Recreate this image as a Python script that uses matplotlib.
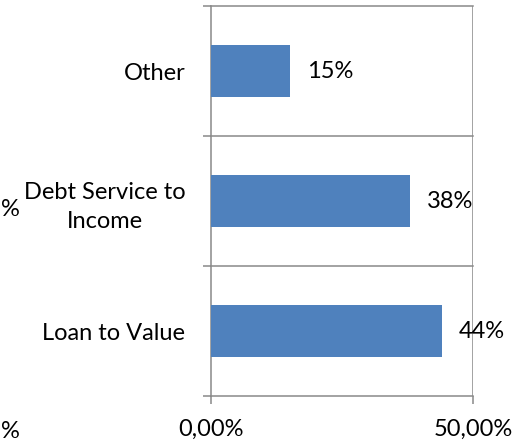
import matplotlib
matplotlib.use("Agg")
import matplotlib.pyplot as plt

plt.rcParams['font.family'] = ['Lato', 'DejaVu Sans']

# categories listed bottom to top
categories = ['Loan to Value', 'Debt Service to\nIncome', 'Other']
shares = [44, 38, 15]          # percent
value_labels = ['44%', '38%', '15%']
xtick_values = [0, 50]
xtick_labels = ['0,00%', '50,00%']

bar_color = '#4F81BD'
line_color = '#898989'
W, H = 518, 443

fig = plt.figure(figsize=(W / 100, H / 100), dpi=100)
ax = fig.add_axes([211 / W, (H - 396) / H, (473 - 211) / W, (396 - 6) / H])

pos = list(range(len(categories)))
ax.barh(pos, shares, height=0.4, color=bar_color, zorder=3)

ax.set_xlim(0, 50)
ax.set_ylim(-0.5, len(categories) - 0.5)

# category gridlines and the 50% gridline
for b in [p + 0.5 for p in pos]:
    ax.axhline(b, color=line_color, lw=1.1, zorder=1, clip_on=False)
ax.axvline(50, color=line_color, lw=1.1, zorder=1)

for side in ['top', 'right']:
    ax.spines[side].set_visible(False)
for side in ['left', 'bottom']:
    ax.spines[side].set_color(line_color)
    ax.spines[side].set_linewidth(1.1)

ax.set_yticks(pos)
ax.set_yticklabels(categories, fontsize=17)
for lab in ax.get_yticklabels():
    lab.set_multialignment('center')
    lab.set_linespacing(1.45)
ax.set_yticks([-0.5] + [p + 0.5 for p in pos], minor=True)
ax.tick_params(axis='y', which='major', length=0, pad=18.5)
ax.tick_params(axis='y', which='minor', length=5.8, width=1.1, color=line_color)

ax.set_xticks(xtick_values)
ax.set_xticklabels(xtick_labels, fontsize=17)
ax.tick_params(axis='x', which='major', length=5.8, width=1.1, color=line_color, pad=11)

for p, v, t in zip(pos, shares, value_labels):
    ax.annotate(t, (v, p), xytext=(12.2, 0), textcoords='offset points',
                ha='left', va='center', fontsize=17, zorder=4)

# trailing characters of the neighbouring chart's labels
fig.text(1 / W, 1 - 209 / H, '%', ha='left', va='center', fontsize=17)
fig.text(1 / W, 1 / H, '%', ha='left', va='bottom', fontsize=17)

fig.savefig('out.png', dpi=100)
